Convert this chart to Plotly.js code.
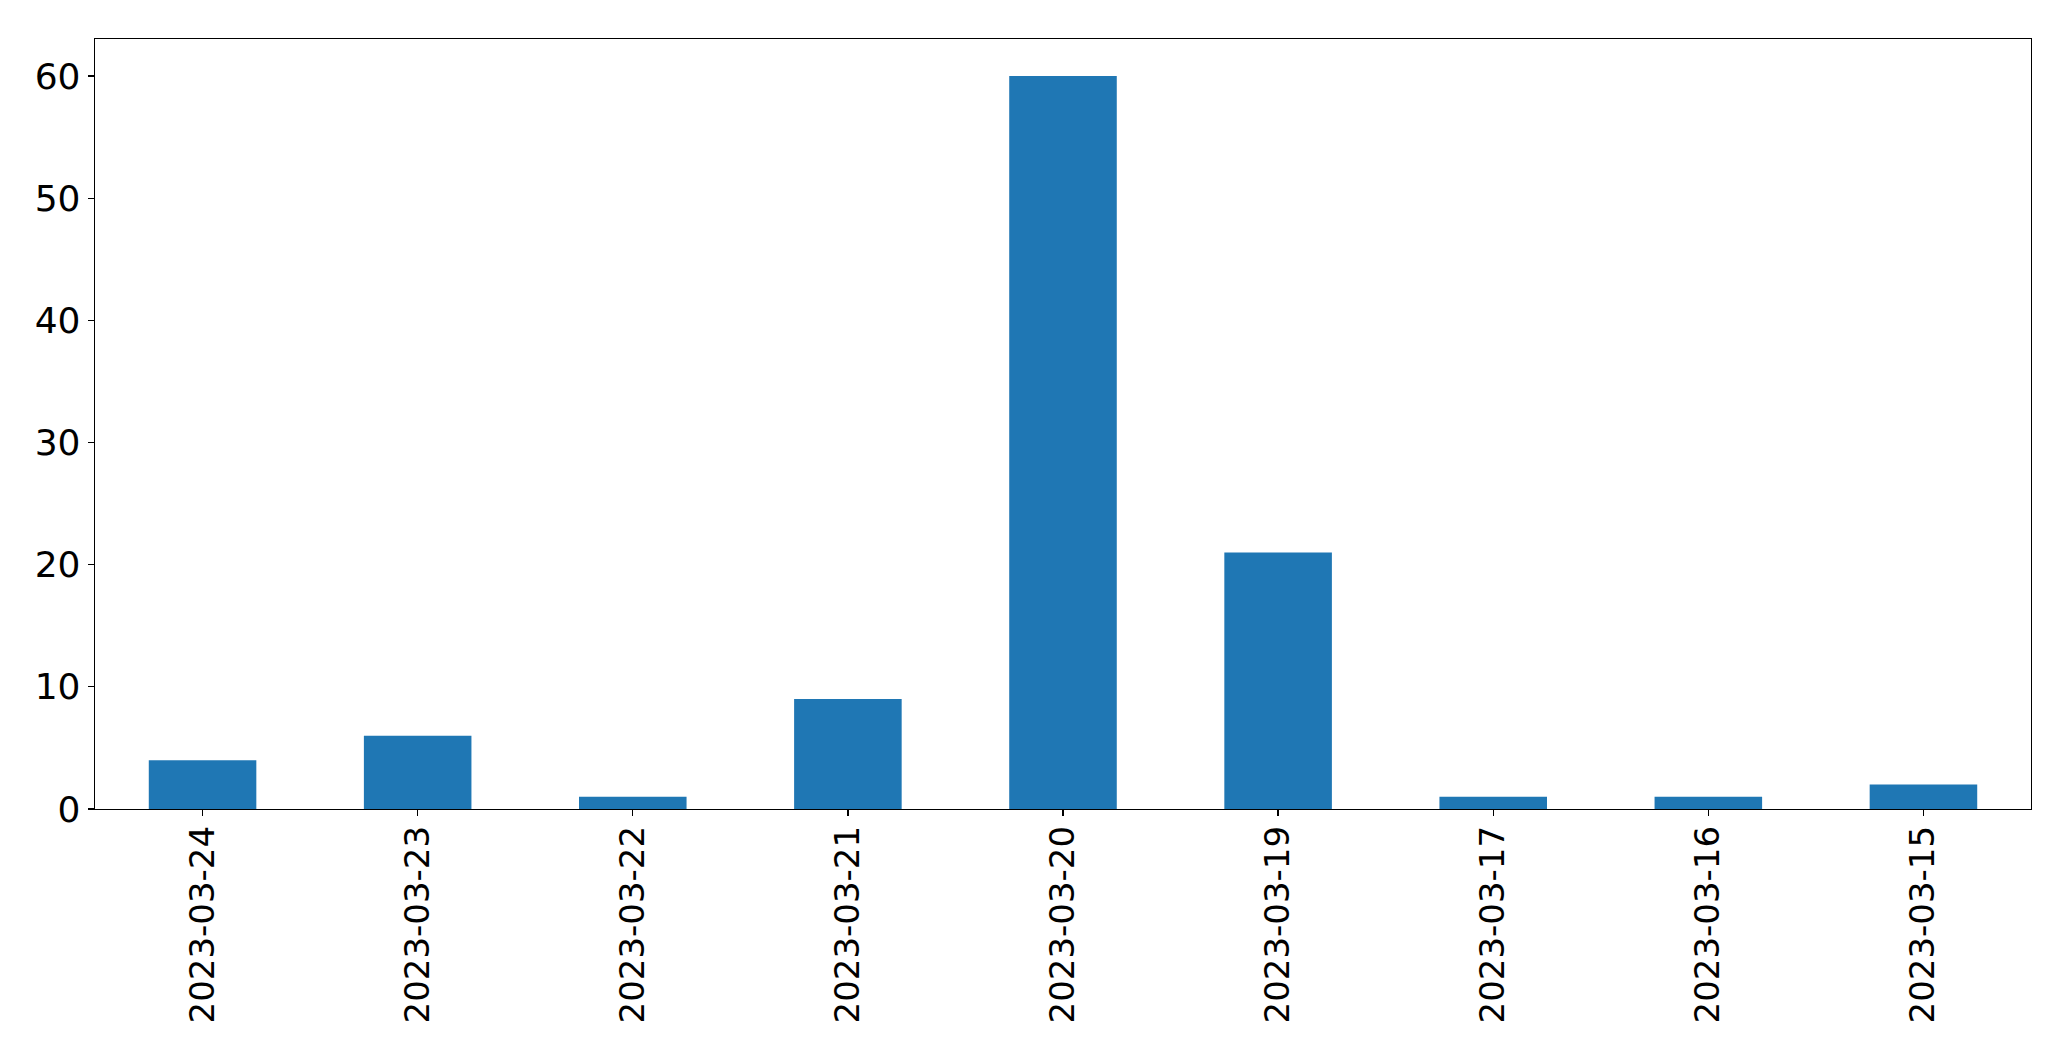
<!DOCTYPE html>
<html>
<head>
<meta charset="utf-8">
<script src="https://cdn.plot.ly/plotly-3.0.1.min.js"></script>
<style>html,body{margin:0;padding:0;background:#fff;}#chart{width:2071px;height:1061px;}</style>
</head>
<body>
<div id="chart"></div>
<script>
const categories = ["2023-03-24","2023-03-23","2023-03-22","2023-03-21","2023-03-20","2023-03-19","2023-03-17","2023-03-16","2023-03-15"];
const counts = [4, 6, 1, 9, 60, 21, 1, 1, 2];
const yTicks = [0, 10, 20, 30, 40, 50, 60];

const xfont = {family: "DejaVu Sans", size: 34, color: "#000"};
const yfont = {family: "DejaVu Sans", size: 36, color: "#000"};
Plotly.newPlot("chart", [{
  type: "bar",
  x: categories,
  y: counts,
  width: 0.5,
  marker: {color: "#1f77b4", line: {width: 0}},
  hoverinfo: "x+y"
}], {
  width: 2071, height: 1061,
  margin: {l: 95, r: 40, t: 39, b: 252, pad: 0},
  paper_bgcolor: "#fff", plot_bgcolor: "#fff",
  showlegend: false,
  font: xfont,
  xaxis: {
    type: "category", range: [-0.5, 8.5],
    tickangle: -90, ticks: "outside", ticklen: 6, tickwidth: 1.3, tickcolor: "#000",
    showline: true, linecolor: "#000", linewidth: 1.3, mirror: true,
    showgrid: false, zeroline: false, tickfont: xfont, automargin: false,
    ticklabelstandoff: -4
  },
  yaxis: {
    range: [0, 63.03], tickvals: yTicks, ticktext: yTicks.map(String),
    ticks: "outside", ticklen: 6, tickwidth: 1.3, tickcolor: "#000",
    showline: true, linecolor: "#000", linewidth: 1.3, mirror: true,
    showgrid: false, zeroline: false, tickfont: yfont, automargin: false
  }
}, {displayModeBar: false, staticPlot: true});
</script>
</body>
</html>
